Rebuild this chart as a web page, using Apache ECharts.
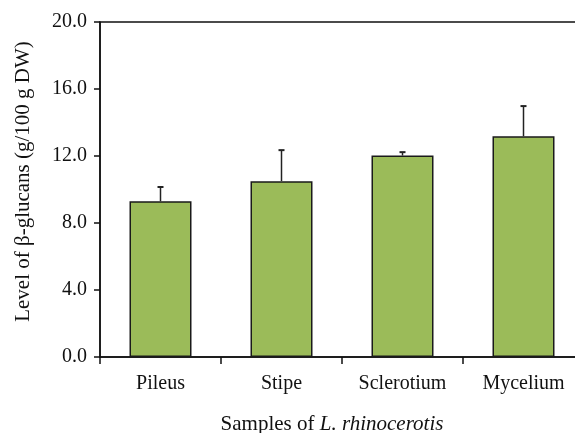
<!DOCTYPE html>
<html><head><meta charset="utf-8">
<script src="https://cdn.jsdelivr.net/npm/echarts@6/dist/echarts.min.js"></script>
<style>html,body{margin:0;padding:0;background:#fff}#c{width:575px;height:433px}</style>
</head><body><div id="c"></div>
<script>
const categories = ['Pileus', 'Stipe', 'Sclerotium', 'Mycelium'];
const values = [9.3, 10.5, 12.03, 13.18];
const errors = [0.85, 1.85, 0.2, 1.8];
const yTicks = [0, 4, 8, 12, 16, 20];

const chart = echarts.init(document.getElementById('c'));
const font = 'Liberation Serif';
chart.setOption({
  animation: false,
  grid: { left: 100, width: 484, top: 22, height: 335, outerBoundsMode: 'none', show: true, borderColor: '#111', borderWidth: 1.5, containLabel: false },
  xAxis: {
    type: 'category', data: categories,
    axisLine: { lineStyle: { color: '#111', width: 1.5 } },
    axisTick: { show: true, alignWithLabel: false, length: 7, lineStyle: { color: '#111', width: 1.5 } },
    axisLabel: { color: '#111', fontFamily: font, fontSize: 20, margin: 17 },
    name: 'Samples of {i|L. rhinocerotis}', nameLocation: 'middle', nameGap: 57,
    nameTextStyle: { color: '#111', fontFamily: font, fontSize: 21, padding: [0, 20, 0, 0], rich: { i: { fontStyle: 'italic', fontFamily: font, fontSize: 21, color: '#111' } } }
  },
  yAxis: {
    type: 'value', min: 0, max: 20, interval: 4,
    axisLine: { show: true, lineStyle: { color: '#111', width: 1.5 } },
    axisTick: { show: true, length: 6, lineStyle: { color: '#111', width: 1.5 } },
    splitLine: { show: false },
    axisLabel: { color: '#111', fontFamily: font, fontSize: 20, margin: 13, formatter: v => yTicks.includes(v) ? v.toFixed(1) : '' },
    name: 'Level of β-glucans (g/100 g DW)', nameLocation: 'middle', nameGap: 66,
    nameTextStyle: { color: '#111', fontFamily: font, fontSize: 21, padding: [0, 0, 0, 16] }
  },
  series: [
    {
      type: 'bar', data: values, barWidth: 62,
      itemStyle: { color: '#9BBB59', borderColor: '#1a1a1a', borderWidth: 1.5 }
    },
    {
      type: 'custom', z: 1,
      data: values.map((v, i) => [i, v, v + errors[i]]),
      renderItem: (params, api) => {
        const lo = api.coord([api.value(0), api.value(1)]);
        const hi = api.coord([api.value(0), api.value(2)]);
        const st = { stroke: '#222', lineWidth: 1.5 };
        return { type: 'group', children: [
          { type: 'line', shape: { x1: lo[0], y1: lo[1], x2: hi[0], y2: hi[1] }, style: st },
          { type: 'line', shape: { x1: hi[0] - 3, y1: hi[1], x2: hi[0] + 3, y2: hi[1] }, style: { stroke: '#222', lineWidth: 2 } }
        ] };
      }
    }
  ]
});
</script></body></html>
